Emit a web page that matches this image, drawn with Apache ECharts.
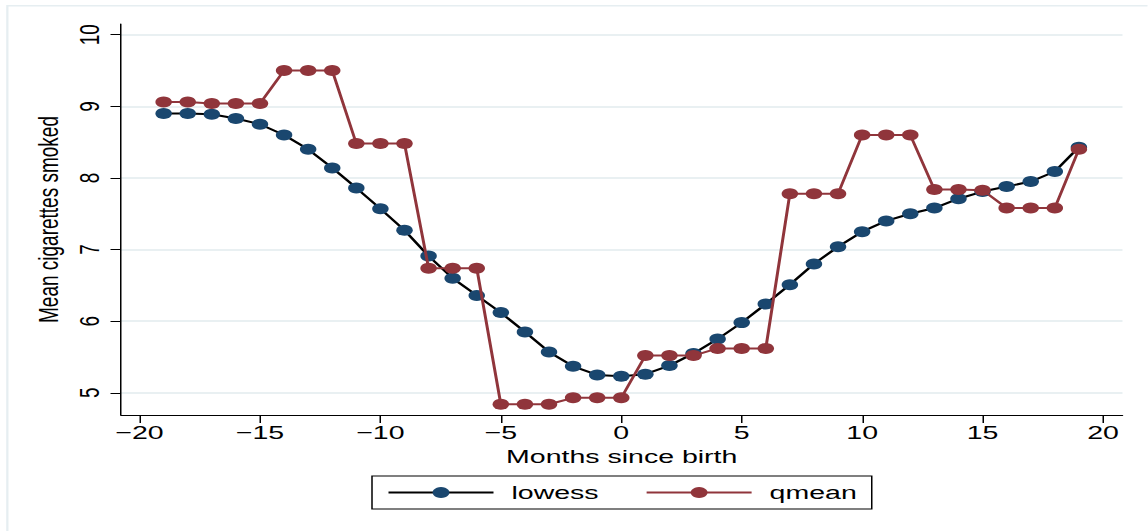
<!DOCTYPE html>
<html>
<head>
<meta charset="utf-8">
<script src="https://cdn.jsdelivr.net/npm/echarts@6/dist/echarts.min.js"></script>
<style>
  html, body { margin: 0; padding: 0; background: #ffffff; overflow: hidden; }
  #wrap { width: 1148px; height: 531px; overflow: hidden; position: relative; }
  #chart { width: 765.333px; height: 531px; transform: scaleX(1.5); transform-origin: 0 0; position: absolute; left: 0; top: 0; }
</style>
</head>
<body>
<div id="wrap"><div id="chart"></div></div>
<script>
// ---- Data ----
const months = [-19, -18, -17, -16, -15, -14, -13, -12, -11, -10, -9, -8, -7, -6, -5, -4, -3, -2, -1, 0,
                 1, 2, 3, 4, 5, 6, 7, 8, 9, 10, 11, 12, 13, 14, 15, 16, 17, 18, 19];
const lowess = [8.90, 8.90, 8.89, 8.83, 8.75, 8.60, 8.40, 8.14, 7.86, 7.57, 7.27, 6.91, 6.60, 6.36, 6.12, 5.85, 5.57, 5.37, 5.25, 5.23,
                5.26, 5.38, 5.55, 5.75, 5.98, 6.24, 6.51, 6.80, 7.04, 7.25, 7.40, 7.50, 7.58, 7.71, 7.81, 7.88, 7.95, 8.09, 8.43];
const qmean  = [9.06, 9.06, 9.04, 9.04, 9.04, 9.50, 9.50, 9.50, 8.48, 8.48, 8.48, 6.74, 6.74, 6.74, 4.84, 4.84, 4.84, 4.93, 4.93, 4.93,
                5.52, 5.52, 5.52, 5.62, 5.62, 5.62, 7.78, 7.78, 7.78, 8.60, 8.60, 8.60, 7.84, 7.84, 7.83, 7.58, 7.58, 7.58, 8.40];
const xTicks = [-20, -15, -10, -5, 0, 5, 10, 15, 20];
const yTicks = [5, 6, 7, 8, 9, 10];
const seriesNames = ['lowess', 'qmean'];
const xTitle = 'Months since birth';
const yTitle = 'Mean cigarettes smoked';

const NAVY = '#1a476f';
const MAROON = '#90353b';
const FONT = '"Liberation Sans", Arial, Helvetica, sans-serif';
const FS = 19;

const pair = (ys) => months.map((m, i) => [m, ys[i]]);
const minus = (v) => String(v).replace('-', '\u2212');

const chart = echarts.init(document.getElementById('chart'), null, { renderer: 'svg' });
chart.setOption({
  animation: false,
  backgroundColor: '#ffffff',
  textStyle: { fontFamily: FONT, color: '#000' },
  graphic: [{
    type: 'rect', silent: true, z: -10,
    shape: { x: 4.9, y: 5.7, width: 900, height: 700 },
    style: { fill: 'none', stroke: '#e6eef1', lineWidth: 1.5 }
  }],
  grid: { left: 80.67, right: 16.67, top: 24, bottom: 116, containLabel: false },
  xAxis: {
    type: 'value', min: -20.77, max: 20.81,
    name: xTitle, nameLocation: 'middle', nameGap: 29,
    nameTextStyle: { fontSize: FS, color: '#000', fontFamily: FONT },
    axisLine: { show: true, onZero: false, lineStyle: { color: '#000', width: 1 } },
    axisTick: { show: true, length: 8, customValues: xTicks, lineStyle: { color: '#000', width: 1 } },
    axisLabel: { customValues: xTicks, margin: 8, fontSize: FS, color: '#000', fontFamily: FONT, formatter: minus },
    splitLine: { show: false }
  },
  yAxis: {
    type: 'value', min: 4.69, max: 10.15,
    name: yTitle, nameLocation: 'middle', nameGap: 35, nameRotate: 90,
    nameTextStyle: { fontSize: FS, color: '#000', fontFamily: FONT },
    axisLine: { show: true, onZero: false, lineStyle: { color: '#000', width: 1 } },
    axisTick: { show: true, length: 7, customValues: yTicks, lineStyle: { color: '#000', width: 1 } },
    axisLabel: { customValues: yTicks, rotate: 90, margin: 12, fontSize: FS, color: '#000', fontFamily: FONT },
    splitLine: { show: true, lineStyle: { color: '#e9f0f2', width: 2 } }
  },
  legend: {
    data: seriesNames,
    left: 248, top: 476,
    orient: 'horizontal',
    itemWidth: 70, itemHeight: 14, itemGap: 31,
    padding: [7, 10, 7, 10],
    borderColor: '#000', borderWidth: 1, borderRadius: 0,
    backgroundColor: '#fff',
    textStyle: { fontSize: FS, color: '#000', fontFamily: FONT, padding: [0, 0, 0, 7] }
  },
  series: [
    {
      name: seriesNames[0], type: 'line', data: pair(lowess),
      symbol: 'circle', symbolSize: 11, showSymbol: true,
      lineStyle: { color: '#000', width: 2 },
      itemStyle: { color: NAVY, borderWidth: 0 },
      z: 2
    },
    {
      name: seriesNames[1], type: 'line', data: pair(qmean),
      symbol: 'circle', symbolSize: 11, showSymbol: true,
      lineStyle: { color: MAROON, width: 2 },
      itemStyle: { color: MAROON, borderWidth: 0 },
      z: 3
    }
  ]
});
</script>
</body>
</html>
